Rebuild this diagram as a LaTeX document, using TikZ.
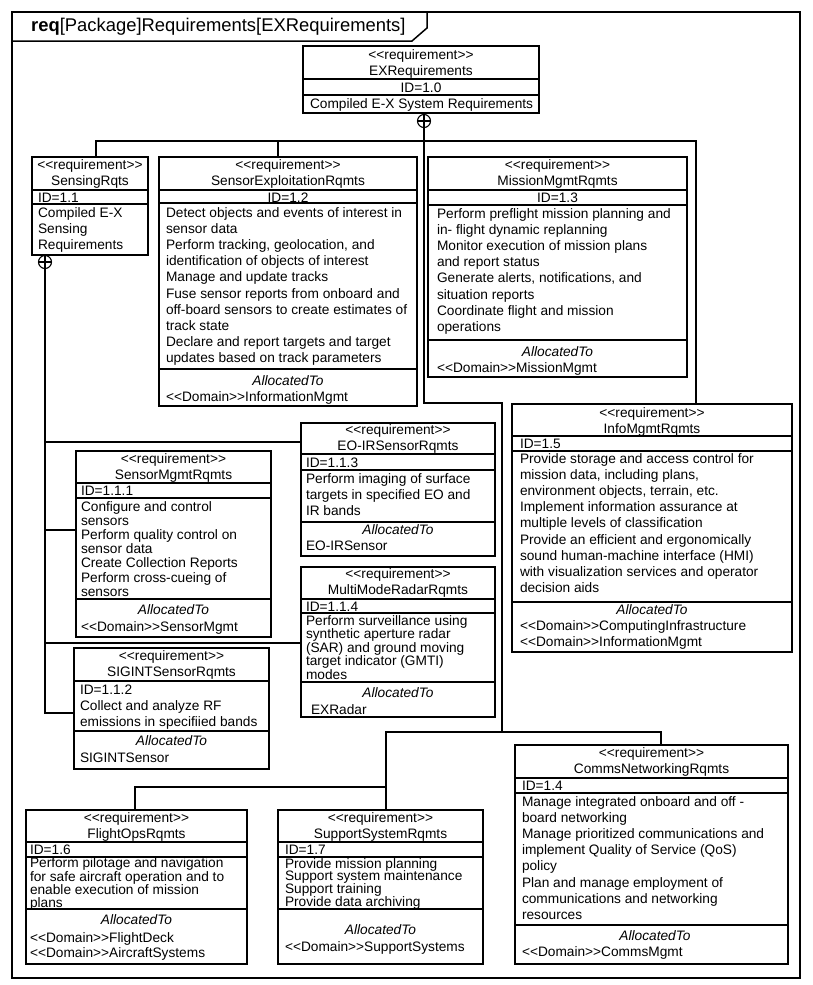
\documentclass[tikz,border=0pt]{standalone}
\usepackage{fontspec}
\newfontfamily\arialf{Liberation Sans}
\newcommand\bodyfont{\arialf\fontsize{13.7}{16.2}\selectfont}
\newcommand\tightfont{\arialf\fontsize{13.7}{13.6}\selectfont}
\newcommand\midfont{\arialf\fontsize{13.7}{14.2}\selectfont}
\newcommand\dv[2]{\draw[divline] (#1.west |- 0,#2) -- (#1.east |- 0,#2);}
% header: name, x center, first baseline, title (node anchored at last line)
\newcommand\hdr[4]{\node[reqctr] (#1) at ({#2},{#3+16.2}) {<<requirement>>\\#4};}
\newcommand\alloc[3]{\node[reqctr] (#1) at (#2,#3) {\itshape AllocatedTo};}
\begin{document}
\begin{tikzpicture}[x=1pt,y=-1pt,
 reqbox/.style={draw, line width=1.7pt, inner sep=0pt, outer sep=0pt, anchor=north west},
 divline/.style={line width=1.7pt},
 connline/.style={line width=1.1pt},
 reqtxt/.style={inner sep=0pt, outer sep=0pt, anchor=base west, align=left, font=\bodyfont},
 reqctr/.style={inner sep=0pt, outer sep=0pt, anchor=base, align=center, font=\bodyfont},
 reqtight/.style={reqtxt, font=\tightfont},
 reqmid/.style={reqtxt, font=\midfont},
 oplus/.style={circle, draw, line width=1.1pt, minimum size=13pt, inner sep=0pt, outer sep=0pt}
]
\fill[white] (0,0) rectangle (813,985);
\useasboundingbox (0,0) rectangle (813,985);

% frame
\node[reqbox] (frame) at (12,12) [minimum width=788pt, minimum height=966pt] {};
\draw[line width=1.5pt] (frame.north west |- 0,41) -- (412,41) -- (427,28) -- (427,12);
\node[anchor=base west, inner sep=0pt, font=\arialf\fontsize{18.4}{22}\selectfont] (title) at (31,31) {\textbf{req}[Package]Requirements[EXRequirements]};

% EXRequirements
\node[reqbox, minimum width=236pt, minimum height=67pt] (ex) at (303,46) {};
\dv{ex}{79}\dv{ex}{95}
\node[reqctr, font=\arialf\fontsize{13.7}{16.8}\selectfont] (ex-h) at (421,75.8) {<<requirement>>\\EXRequirements};
\node[reqctr] (ex-id) at (421,92) {ID=1.0};
\node[reqtxt] (ex-b) at (310,108) {Compiled E-X System Requirements};
\node[oplus] (op1) at (424,121) {};
\draw[connline] (op1.north) -- (op1.south) (op1.west) -- (op1.east);

% SensingRqts
\node[reqbox, minimum width=116pt, minimum height=98pt] (sen) at (32,157) {};
\dv{sen}{190}\dv{sen}{204}
\hdr{sen-h}{90}{169}{SensingRqts}
\node[reqtxt] (sen-id) at (38,202) {ID=1.1};
\node[reqtxt] (sen-b) at (38,249.4) {Compiled E-X\\Sensing\\Requirements};
\node[oplus] (op2) at (45,262) {};
\draw[connline] (op2.north) -- (op2.south) (op2.west) -- (op2.east);

% SensorExploitationRqmts
\node[reqbox, minimum width=258pt, minimum height=249pt] (sx) at (159,157) {};
\dv{sx}{190}\dv{sx}{203}\dv{sx}{369}
\hdr{sx-h}{288}{169}{SensorExploitationRqmts}
\node[reqctr] (sx-id) at (288,202) {ID=1.2};
\node[reqtxt] (sx-b) at (166,362.8) {Detect objects and events of interest in\\sensor data\\Perform tracking, geolocation, and\\identification of objects of interest\\Manage and update tracks\\Fuse sensor reports from onboard and\\off-board sensors to create estimates of\\track state\\Declare and report targets and target\\updates based on track parameters};
\alloc{sx-a}{288}{385}
\node[reqtxt] (sx-d) at (166,401) {<<Domain>>InformationMgmt};

% MissionMgmtRqmts
\node[reqbox, minimum width=259pt, minimum height=220pt] (mm) at (428,157) {};
\dv{mm}{190}\dv{mm}{205}\dv{mm}{340}
\hdr{mm-h}{557.5}{169}{MissionMgmtRqmts}
\node[reqctr] (mm-id) at (557.5,202) {ID=1.3};
\node[reqtxt] (mm-b) at (437,331.4) {Perform preflight mission planning and\\in- flight dynamic replanning\\Monitor execution of mission plans\\and report status\\Generate alerts, notifications, and\\situation reports\\Coordinate flight and mission\\operations};
\alloc{mm-a}{557.5}{356}
\node[reqtxt] (mm-d) at (437,372) {<<Domain>>MissionMgmt};

% InfoMgmtRqmts
\node[reqbox, minimum width=280pt, minimum height=248pt] (im) at (512,404) {};
\dv{im}{436}\dv{im}{451}\dv{im}{602}
\hdr{im-h}{652}{417}{InfoMgmtRqmts}
\node[reqtxt] (im-id) at (520,448) {ID=1.5};
\node[reqtxt] (im-b) at (520,592.6) {Provide storage and access control for\\mission data, including plans,\\environment objects, terrain, etc.\\Implement information assurance at\\multiple levels of classification\\Provide an efficient and ergonomically\\sound human-machine interface (HMI)\\with visualization services and operator\\decision aids};
\alloc{im-a}{652}{614}
\node[reqtxt] (im-d) at (520,646.2) {<<Domain>>ComputingInfrastructure\\<<Domain>>InformationMgmt};

% EO-IRSensorRqmts
\node[reqbox, minimum width=194pt, minimum height=133pt] (eo) at (301,423) {};
\dv{eo}{454}\dv{eo}{470}\dv{eo}{522}
\hdr{eo-h}{398}{434}{EO-IRSensorRqmts}
\node[reqtxt] (eo-id) at (306,467) {ID=1.1.3};
\node[reqtxt] (eo-b) at (306,515.4) {Perform imaging of surface\\targets in specified EO and\\IR bands};
\alloc{eo-a}{398}{534}
\node[reqtxt] (eo-d) at (306,550) {EO-IRSensor};

% MultiModeRadarRqmts
\node[reqbox, minimum width=194pt, minimum height=150pt] (mr) at (301,567) {};
\dv{mr}{599}\dv{mr}{613}\dv{mr}{682}
\hdr{mr-h}{398}{578}{MultiModeRadarRqmts}
\node[reqtxt] (mr-id) at (306,611) {ID=1.1.4};
\node[reqtight] (mr-b) at (306,679.4) {Perform surveillance using\\synthetic aperture radar\\(SAR) and ground moving\\target indicator (GMTI)\\modes};
\alloc{mr-a}{398}{697}
\node[reqtxt] (mr-d) at (311,714) {EXRadar};

% SensorMgmtRqmts
\node[reqbox, minimum width=195pt, minimum height=186pt] (sm) at (76,451) {};
\dv{sm}{483}\dv{sm}{498}\dv{sm}{599}
\hdr{sm-h}{173.5}{463}{SensorMgmtRqmts}
\node[reqtxt] (sm-id) at (81,495) {ID=1.1.1};
\node[reqmid] (sm-b) at (81,596.2) {Configure and control\\sensors\\Perform quality control on\\sensor data\\Create Collection Reports\\Perform cross-cueing of\\sensors};
\alloc{sm-a}{173.5}{614}
\node[reqtxt] (sm-d) at (81,631) {<<Domain>>SensorMgmt};

% SIGINTSensorRqmts
\node[reqbox, minimum width=195pt, minimum height=121pt] (sg) at (74,648) {};
\dv{sg}{681}\dv{sg}{731}
\hdr{sg-h}{171.5}{660}{SIGINTSensorRqmts}
\node[reqtxt] (sg-b) at (80,726.4) {ID=1.1.2\\Collect and analyze RF\\emissions in specifiied bands};
\alloc{sg-a}{171.5}{745}
\node[reqtxt] (sg-d) at (80,762) {SIGINTSensor};

% FlightOpsRqmts
\node[reqbox, minimum width=221pt, minimum height=154pt] (fo) at (26,810) {};
\dv{fo}{842}\dv{fo}{857}\dv{fo}{909}
\hdr{fo-h}{136.5}{822}{FlightOpsRqmts}
\node[reqtxt] (fo-id) at (30,854) {ID=1.6};
\node[reqtxt, font=\arialf\fontsize{13.7}{12.4}\selectfont] (fo-b) at (30,907.2) {Perform pilotage and navigation\\for safe aircraft operation and to\\enable execution of mission\\plans};
\alloc{fo-a}{136.5}{924}
\node[reqtxt, font=\arialf\fontsize{13.7}{15}\selectfont] (fo-d) at (30,957) {<<Domain>>FlightDeck\\<<Domain>>AircraftSystems};

% SupportSystemRqmts
\node[reqbox, minimum width=205pt, minimum height=154pt] (ss) at (278,810) {};
\dv{ss}{842}\dv{ss}{857}\dv{ss}{909}
\hdr{ss-h}{380.5}{822}{SupportSystemRqmts}
\node[reqtxt] (ss-id) at (285,854) {ID=1.7};
\node[reqtxt, font=\arialf\fontsize{13.7}{12.9}\selectfont] (ss-b) at (285,906.7) {Provide mission planning\\Support system maintenance\\Support training\\Provide data archiving};
\alloc{ss-a}{380.5}{934}
\node[reqtxt] (ss-d) at (285,951) {<<Domain>>SupportSystems};

% CommsNetworkingRqmts
\node[reqbox, minimum width=273pt, minimum height=219pt] (cn) at (515,745) {};
\dv{cn}{778}\dv{cn}{793}\dv{cn}{925}
\hdr{cn-h}{651.5}{757}{CommsNetworkingRqmts}
\node[reqtxt] (cn-id) at (522,790) {ID=1.4};
\node[reqtxt] (cn-b) at (522,919.4) {Manage integrated onboard and off -\\board networking\\Manage prioritized communications and\\implement Quality of Service (QoS)\\policy\\Plan and manage employment of\\communications and networking\\resources};
\alloc{cn-a}{655}{940}
\node[reqtxt] (cn-d) at (522,956) {<<Domain>>CommsMgmt};

% connectors: top level containment tree
\coordinate (bus1) at (96,141);
\coordinate (bus2) at (696,141);
\draw[connline] (sen.north -| bus1) -- (bus1) -- (bus2) -- (im.north -| bus2);
\draw[connline] (sx.north -| 278,0) -- (278,141);
\coordinate (k1) at (424,403);
\coordinate (k2) at (502,403);
\coordinate (k3) at (502,732);
\draw[connline] (op1.south) -- (k1) -- (k2) -- (k3);
\coordinate (k4) at (386,732);
\coordinate (k5) at (661,732);
\draw[connline] (ss.north -| k4) -- (k4) -- (k5) -- (cn.north -| k5);
\coordinate (k6) at (386,787);
\coordinate (k7) at (135,787);
\draw[connline] (fo.north -| k7) -- (k7) -- (k6);

% connectors: SensingRqts containment
\draw[connline] (op2.south) |- (sg.west |- 0,713);
\draw[connline] (45,442) -- (eo.west |- 0,442);
\draw[connline] (45,530) -- (sm.west |- 0,530);
\draw[connline] (45,643) -- (mr.west |- 0,643);
\end{tikzpicture}
\end{document}
